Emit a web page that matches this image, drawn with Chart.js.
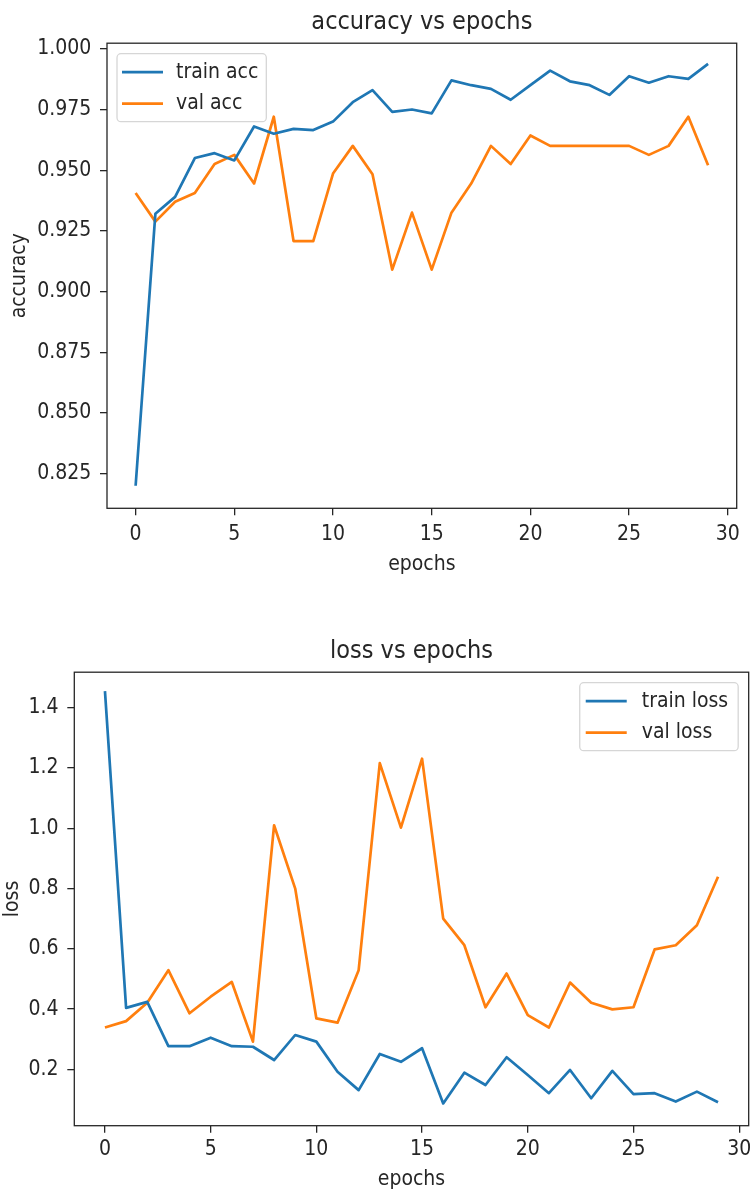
<!DOCTYPE html>
<html>
<head>
<meta charset="utf-8">
<script src="https://cdn.jsdelivr.net/npm/chart.js@4.4.0/dist/chart.umd.min.js"></script>
<style>
  body { margin: 0; background: #fff; }
  canvas { display: block; }
</style>
</head>
<body>
<canvas id="chart-acc" width="756" height="600"></canvas>
<canvas id="chart-loss" width="756" height="595"></canvas>
<script>
var epochs = [0, 1, 2, 3, 4, 5, 6, 7, 8, 9, 10, 11, 12, 13, 14, 15, 16, 17, 18, 19, 20, 21, 22, 23, 24, 25, 26, 27, 28, 29];

var trainAcc = [0.820, 0.932, 0.939, 0.955, 0.957, 0.954, 0.968, 0.965, 0.967, 0.9665, 0.970, 0.978, 0.983, 0.974, 0.975,
  0.9734, 0.987, 0.985, 0.9835, 0.979, 0.985, 0.991, 0.9866, 0.985, 0.981, 0.9887, 0.986, 0.9887, 0.9876, 0.9938];
var valAcc = [0.9406, 0.9288, 0.937, 0.9406, 0.9525, 0.9563, 0.9445, 0.972, 0.9208, 0.9208, 0.9486, 0.960, 0.9483, 0.909, 0.9325,
  0.909, 0.9325, 0.9445, 0.960, 0.9525, 0.9643, 0.960, 0.960, 0.960, 0.960, 0.960, 0.9563, 0.960, 0.972, 0.952];

var trainLoss = [1.455, 0.404, 0.424, 0.277, 0.277, 0.305, 0.277, 0.275, 0.231, 0.314, 0.292, 0.192, 0.131, 0.251, 0.225,
  0.270, 0.087, 0.189, 0.148, 0.240, 0.181, 0.121, 0.198, 0.104, 0.195, 0.118, 0.121, 0.093, 0.126, 0.091];
var valLoss = [0.339, 0.360, 0.421, 0.529, 0.386, 0.441, 0.490, 0.292, 1.010, 0.800, 0.369, 0.355, 0.529, 1.216, 1.002,
  1.231, 0.700, 0.612, 0.406, 0.518, 0.380, 0.339, 0.488, 0.421, 0.399, 0.406, 0.598, 0.612, 0.678, 0.839];

var epochTicks = [0, 5, 10, 15, 20, 25, 30];
var accTicks = [0.825, 0.850, 0.875, 0.900, 0.925, 0.950, 0.975, 1.000];
var accTickLabels = ['0.825', '0.850', '0.875', '0.900', '0.925', '0.950', '0.975', '1.000'];
var lossTicks = [0.2, 0.4, 0.6, 0.8, 1.0, 1.2, 1.4];
var lossTickLabels = ['0.2', '0.4', '0.6', '0.8', '1.0', '1.2', '1.4'];

var FONT = "'DejaVu Sans Condensed', 'DejaVu Sans', sans-serif";
var INK = '#262626';
var BLUE = '#1f77b4';
var ORANGE = '#ff7f0e';

function toPoints(values) {
  return epochs.map(function (e, i) { return { x: e, y: values[i] }; });
}

// axes frame drawn over the lines, like matplotlib spines
var framePlugin = {
  id: 'frame',
  afterDatasetsDraw: function (chart) {
    var a = chart.chartArea, ctx = chart.ctx;
    ctx.save();
    ctx.strokeStyle = INK;
    ctx.lineWidth = 1.3;
    ctx.strokeRect(a.left, a.top, a.right - a.left, a.bottom - a.top);
    ctx.restore();
  }
};

// legend box inside the plot area
var boxLegendPlugin = {
  id: 'boxLegend',
  afterDraw: function (chart, args, opts) {
    var a = chart.chartArea, ctx = chart.ctx;
    var sets = chart.data.datasets;
    ctx.save();
    ctx.font = '21px ' + FONT;
    var textW = 0;
    sets.forEach(function (ds) { textW = Math.max(textW, ctx.measureText(ds.label).width); });
    var w = opts.textX + textW + opts.padR, h = 68;
    var x = opts.side === 'right' ? a.right - 10.5 - w : a.left + 10;
    var y = a.top + 10.5;
    ctx.beginPath();
    ctx.roundRect(x, y, w, h, 4);
    ctx.fillStyle = 'rgba(255,255,255,0.8)';
    ctx.fill();
    ctx.strokeStyle = 'rgba(204,204,204,0.8)';
    ctx.lineWidth = 1.3;
    ctx.stroke();
    sets.forEach(function (ds, i) {
      var ry = y + 18.5 + i * 31.5;
      ctx.beginPath();
      ctx.moveTo(x + opts.lineX, ry);
      ctx.lineTo(x + opts.lineX + 41, ry);
      ctx.strokeStyle = ds.borderColor;
      ctx.lineWidth = 2.7;
      ctx.stroke();
      ctx.fillStyle = INK;
      ctx.textBaseline = 'middle';
      ctx.fillText(ds.label, x + opts.textX, ry);
    });
    ctx.restore();
  }
};

function makeChart(id, cfg) {
  return new Chart(document.getElementById(id), {
    type: 'line',
    data: {
      datasets: [{
        label: cfg.names[0],
        data: toPoints(cfg.series[0]),
        borderColor: BLUE,
        borderWidth: 2.7,
        pointRadius: 0,
        tension: 0,
        borderJoinStyle: 'round'
      }, {
        label: cfg.names[1],
        data: toPoints(cfg.series[1]),
        borderColor: ORANGE,
        borderWidth: 2.7,
        pointRadius: 0,
        tension: 0,
        borderJoinStyle: 'round'
      }]
    },
    options: {
      responsive: false,
      animation: false,
      events: [],
      layout: { padding: { left: 0, right: cfg.padRight, top: 0, bottom: 0 } },
      plugins: {
        legend: { display: false },
        tooltip: { enabled: false },
        title: {
          display: true,
          text: cfg.title,
          fullSize: false,
          color: INK,
          font: { family: FONT, size: 25, weight: 'normal', lineHeight: 1.2 },
          padding: { top: cfg.titleTop, bottom: 5.7 }
        },
        boxLegend: cfg.legend
      },
      scales: {
        x: {
          type: 'linear',
          min: -1.45,
          max: 30.45,
          afterFit: function (axis) { axis.height = cfg.xAxisHeight; },
          afterBuildTicks: function (axis) {
            axis.ticks = epochTicks.map(function (v) { return { value: v }; });
          },
          border: { display: false },
          grid: { drawOnChartArea: false, drawTicks: true, tickLength: 7, color: INK, lineWidth: 1.3 },
          ticks: {
            color: INK,
            padding: cfg.xTickPad,
            maxRotation: 0,
            font: { family: FONT, size: 21, lineHeight: 1.2 },
            callback: function (v) { return String(v); }
          },
          title: {
            display: true,
            text: 'epochs',
            color: INK,
            font: { family: FONT, size: 21, lineHeight: 1 },
            padding: { top: 0, bottom: cfg.xTitlePad }
          }
        },
        y: {
          min: cfg.yMin,
          max: cfg.yMax,
          afterFit: function (axis) { axis.width = cfg.yAxisWidth; },
          afterBuildTicks: function (axis) {
            axis.ticks = cfg.yTicks.map(function (v) { return { value: v }; });
          },
          border: { display: false },
          grid: { drawOnChartArea: false, drawTicks: true, tickLength: 7, color: INK, lineWidth: 1.3 },
          ticks: {
            color: INK,
            padding: 8.8,
            font: { family: FONT, size: 21, lineHeight: 1.2 },
            callback: function (v) {
              var i = cfg.yTicks.indexOf(v);
              return i >= 0 ? cfg.yTickLabels[i] : '';
            }
          },
          title: {
            display: true,
            text: cfg.yLabel,
            color: INK,
            font: { family: FONT, size: 21, lineHeight: 1 },
            padding: { top: cfg.yTitlePad, bottom: 0 }
          }
        }
      }
    },
    plugins: [framePlugin, boxLegendPlugin]
  });
}

var accChart = makeChart('chart-acc', {
  title: 'accuracy vs epochs',
  names: ['train acc', 'val acc'],
  series: [trainAcc, valAcc],
  yLabel: 'accuracy',
  yMin: 0.8107, yMax: 1.0023,
  yTicks: accTicks, yTickLabels: accTickLabels,
  legend: { side: 'left', lineX: 5, textX: 59, padR: 8 },
  padRight: 19.3,
  titleTop: 7.5,
  yAxisWidth: 107,
  xAxisHeight: 91.7,
  xTickPad: 6.3,
  xTitlePad: 25.2,
  yTitlePad: 9.5
});

var lossChart = makeChart('chart-loss', {
  title: 'loss vs epochs',
  names: ['train loss', 'val loss'],
  series: [trainLoss, valLoss],
  yLabel: 'loss',
  yMin: 0.013, yMax: 1.518,
  yTicks: lossTicks, yTickLabels: lossTickLabels,
  legend: { side: 'right', lineX: 6, textX: 62, padR: 10 },
  padRight: 6,
  titleTop: 36.5,
  yAxisWidth: 74.3,
  xAxisHeight: 69.3,
  xTickPad: 4.7,
  xTitlePad: 4.8,
  yTitlePad: 2.5
});
</script>
</body>
</html>
